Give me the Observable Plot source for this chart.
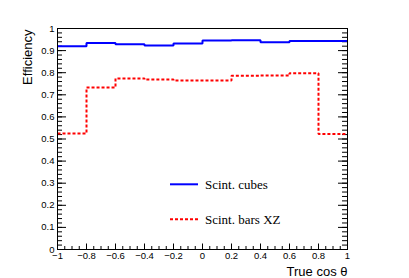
<!DOCTYPE html>
<html><head><meta charset="utf-8">
<script src="https://cdn.jsdelivr.net/npm/d3@7"></script>
<script src="https://cdn.jsdelivr.net/npm/@observablehq/plot@0.6"></script>
<style>
html,body{margin:0;padding:0;background:#fff;}
#chart{position:relative;width:409px;height:278px;}
</style></head><body><div id="chart"></div>
<script>
// ---- data ----
const binEdges = [-1, -0.8, -0.6, -0.4, -0.2, 0, 0.2, 0.4, 0.6, 0.8, 1];
const cubesEff = [0.920, 0.934, 0.929, 0.923, 0.932, 0.946, 0.947, 0.938, 0.943, 0.943];
const barsXZEff = [0.525, 0.733, 0.774, 0.769, 0.765, 0.765, 0.786, 0.787, 0.798, 0.523];
const seriesNames = ["Scint. cubes", "Scint. bars XZ"];
const seriesColors = ["#0000ff", "#ff0000"];
const seriesDash = [null, "3,2"];
const xTicks = [-1, -0.8, -0.6, -0.4, -0.2, 0, 0.2, 0.4, 0.6, 0.8, 1];
const xTickLabels = ["\u22121", "\u22120.8", "\u22120.6", "\u22120.4", "\u22120.2", "0", "0.2", "0.4", "0.6", "0.8", "1"];
const yTicks = [0, 0.1, 0.2, 0.3, 0.4, 0.5, 0.6, 0.7, 0.8, 0.9, 1];
const yTickLabels = ["0", "0.1", "0.2", "0.3", "0.4", "0.5", "0.6", "0.7", "0.8", "0.9", "1"];
const xTitle = "True cos \u03b8";
const yTitle = "Efficiency";

// ---- layout ----
const W = 409, H = 278;
const mL = 57, mR = 62, mT = 28, mB = 29;
const fw = W - mL - mR, fh = H - mT - mB;

const xMinor = d3.range(0, 41).map(i => +(-1 + i * 0.05).toFixed(2));
const yMinor = d3.range(0, 51).map(i => +(i * 0.02).toFixed(2));

function stepPoints(vals) {
  const pts = vals.map((v, i) => ({x: binEdges[i], y: v}));
  pts.push({x: binEdges[binEdges.length - 1], y: vals[vals.length - 1]});
  return pts;
}
const series = [cubesEff, barsXZEff];

const font = "'Liberation Sans', Arial, Helvetica, sans-serif";

const plot = Plot.plot({
  width: W, height: H,
  marginLeft: mL, marginRight: mR, marginTop: mT, marginBottom: mB,
  x: {domain: [-1, 1], axis: null},
  y: {domain: [0, 1], axis: null},
  style: {fontFamily: font, background: "white", color: "black"},
  marks: [
    // ticks inside the frame
    Plot.tickY(yMinor, {y: d => d, insetRight: fw - 5, stroke: "black", strokeWidth: 1}),
    Plot.tickY(yTicks, {y: d => d, insetRight: fw - 9, stroke: "black", strokeWidth: 1}),
    Plot.tickY(yMinor, {y: d => d, insetLeft: fw - 5, stroke: "black", strokeWidth: 1}),
    Plot.tickY(yTicks, {y: d => d, insetLeft: fw - 9, stroke: "black", strokeWidth: 1}),
    Plot.tickX(xMinor, {x: d => d, insetTop: fh - 3, stroke: "black", strokeWidth: 1}),
    Plot.tickX(xTicks, {x: d => d, insetTop: fh - 5.5, stroke: "black", strokeWidth: 1}),
    // histograms
    ...series.map((vals, i) => Plot.line(stepPoints(vals), {
      x: "x", y: "y", curve: "step-after",
      stroke: seriesColors[i], strokeWidth: 2,
      strokeLinecap: "butt", strokeLinejoin: "miter",
      strokeDasharray: seriesDash[i] || undefined
    })),
    Plot.frame({stroke: "black", strokeWidth: 1}),
    // tick labels
    Plot.text(yTicks, {y: d => d, text: (d, i) => yTickLabels[i], frameAnchor: "left", textAnchor: "end", dx: -3, fontSize: 9.5, fill: "black"}),
    Plot.text(xTicks, {x: d => d, text: (d, i) => xTickLabels[i], frameAnchor: "bottom", lineAnchor: "top", dy: 3, fontSize: 9.5, fill: "black"}),
    // axis titles
    Plot.text([yTitle], {text: d => d, frameAnchor: "top-left", rotate: -90, textAnchor: "end", lineAnchor: "bottom", dx: -25.5, dy: 1, fontSize: 13, fill: "black"}),
    Plot.text([xTitle], {text: d => d, frameAnchor: "bottom-right", textAnchor: "end", lineAnchor: "middle", dy: 22, fontSize: 13, fill: "black"})
  ]
});

document.getElementById("chart").appendChild(plot);

// legend inside the frame
const svg = d3.select(plot);
const legY = [184.3, 219.3];
const leg = svg.append("g").attr("text-anchor", "start");
seriesNames.forEach((name, i) => {
  leg.append("line")
    .attr("x1", 170).attr("x2", 198)
    .attr("y1", legY[i]).attr("y2", legY[i])
    .attr("stroke", seriesColors[i]).attr("stroke-width", 2)
    .attr("stroke-dasharray", seriesDash[i]);
  leg.append("text")
    .attr("x", 205).attr("y", legY[i]).attr("dy", "0.35em")
    .attr("text-anchor", "start")
    .attr("font-family", "'Liberation Serif', 'Times New Roman', serif")
    .attr("font-size", 13).attr("fill", "black")
    .text(name);
});
</script></body></html>
